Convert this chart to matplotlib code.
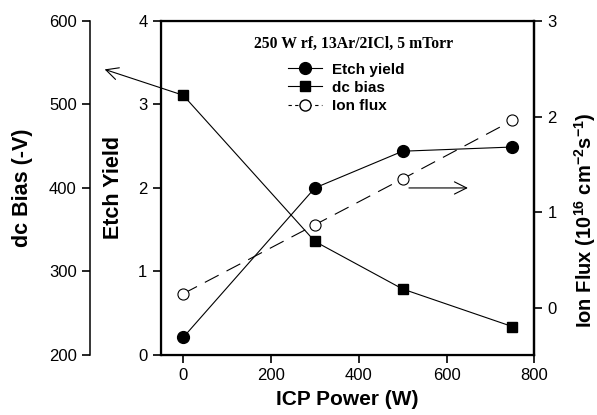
import matplotlib
matplotlib.use("Agg")
import matplotlib.pyplot as plt
from matplotlib.lines import Line2D

plt.rcParams['font.family'] = ['Liberation Sans', 'DejaVu Sans']
plt.rcParams['mathtext.fontset'] = 'custom'
plt.rcParams['mathtext.rm'] = 'Liberation Sans:bold'
plt.rcParams['mathtext.bf'] = 'Liberation Sans:bold'

# data
icp_power = [0, 300, 500, 750]
etch_yield = [0.21, 2.0, 2.44, 2.49]
dc_bias = [511, 336, 279, 234]
ion_flux = [0.15, 0.87, 1.35, 1.96]

legend_title = "250 W rf, 13Ar/2ICl, 5 mTorr"

fig = plt.figure(figsize=(5.97, 4.15), dpi=100)
ax = fig.add_axes([0.269, 0.1446, 0.626, 0.805])
ax_flux = ax.twinx()
ax_bias = ax.twinx()

lw_spine = 1.6
for s in ax.spines.values():
    s.set_linewidth(lw_spine)
ax_flux.spines['right'].set_linewidth(lw_spine)

tick_fs = 12
label_fs = 15.5

# etch yield (main axis)
ax.plot(icp_power, etch_yield, color='black', lw=0.8, marker='o', ms=8.5,
        mfc='black', mec='black', label='Etch yield', zorder=3)
ax.set_xlim(-51.5, 800)
ax.set_ylim(0, 4)
ax.set_xticks([0, 200, 400, 600, 800])
ax.set_yticks([0, 1, 2, 3, 4])
ax.tick_params(axis='both', direction='out', length=6, width=1.2, labelsize=tick_fs)
ax.set_xlabel("ICP Power (W)", fontsize=15, fontweight='bold')
ax.xaxis.set_label_coords(0.5, -0.105)
ax.set_ylabel("Etch Yield", fontsize=label_fs, fontweight='bold')
ax.yaxis.set_label_coords(-0.098, 0.5)

# ion flux (right axis)
ax_flux.plot(icp_power, ion_flux, color='black', lw=0.8, ls=(0, (14, 8)),
             marker='o', ms=8, mfc='white', mec='black', mew=0.8, label='Ion flux')
ax_flux.set_ylim(-0.49, 3)
ax_flux.set_yticks([0, 1, 2, 3])
ax_flux.tick_params(axis='y', direction='out', length=6, width=1.2, labelsize=tick_fs)
ax_flux.set_ylabel(r"Ion Flux (10$^{16}$ cm$^{-2}$s$^{-1}$)", fontsize=14.5, fontweight='bold')
ax_flux.yaxis.set_label_coords(1.10, 0.404)

# dc bias (offset left axis)
ax_bias.plot(icp_power, dc_bias, color='black', lw=0.8, marker='s', ms=7.5,
             mfc='black', mec='black', label='dc bias')
ax_bias.set_ylim(200, 600)
ax_bias.set_yticks([200, 300, 400, 500, 600])
ax_bias.spines['left'].set_position(('axes', -0.189))
ax_bias.spines['left'].set_visible(True)
ax_bias.spines['left'].set_linewidth(1.1)
for side in ['right', 'top', 'bottom']:
    ax_bias.spines[side].set_visible(False)
ax_bias.yaxis.set_ticks_position('left')
ax_bias.yaxis.set_label_position('left')
ax_bias.tick_params(axis='y', direction='out', length=6, width=1.2, labelsize=tick_fs)
ax_bias.set_ylabel("dc Bias (-V)", fontsize=label_fs, fontweight='bold')
ax_bias.yaxis.set_label_coords(-0.342, 0.5)

# arrows pointing to the matching axes
ax_bias.annotate("", xy=(-185, 543), xytext=(0, 511), annotation_clip=False,
                 arrowprops=dict(arrowstyle='->', lw=0.8, mutation_scale=22, color='black'))
ax.annotate("", xy=(655, 2.0), xytext=(508, 2.0),
            arrowprops=dict(arrowstyle='->', lw=0.8, mutation_scale=22, color='black'))

# legend
fig.text(0.592, 0.894, legend_title, family='Liberation Serif', fontweight='bold',
         fontsize=11.3, ha='center', va='center')
handles = [
    Line2D([], [], color='black', lw=0.8, marker='o', ms=8.5, mfc='black'),
    Line2D([], [], color='black', lw=0.8, marker='s', ms=7.5, mfc='black'),
    Line2D([], [], color='black', lw=0.8, ls=(0, (3, 3)), marker='o', ms=8, mfc='white'),
]
fig.legend(handles, ['Etch yield', 'dc bias', 'Ion flux'], loc='upper left',
           bbox_to_anchor=(0.4825, 0.849), frameon=False, borderpad=0, borderaxespad=0,
           handlelength=2.2, handletextpad=0.7, labelspacing=0.27,
           prop={'weight': 'bold', 'size': 11})

fig.savefig("out.png", dpi=100)
